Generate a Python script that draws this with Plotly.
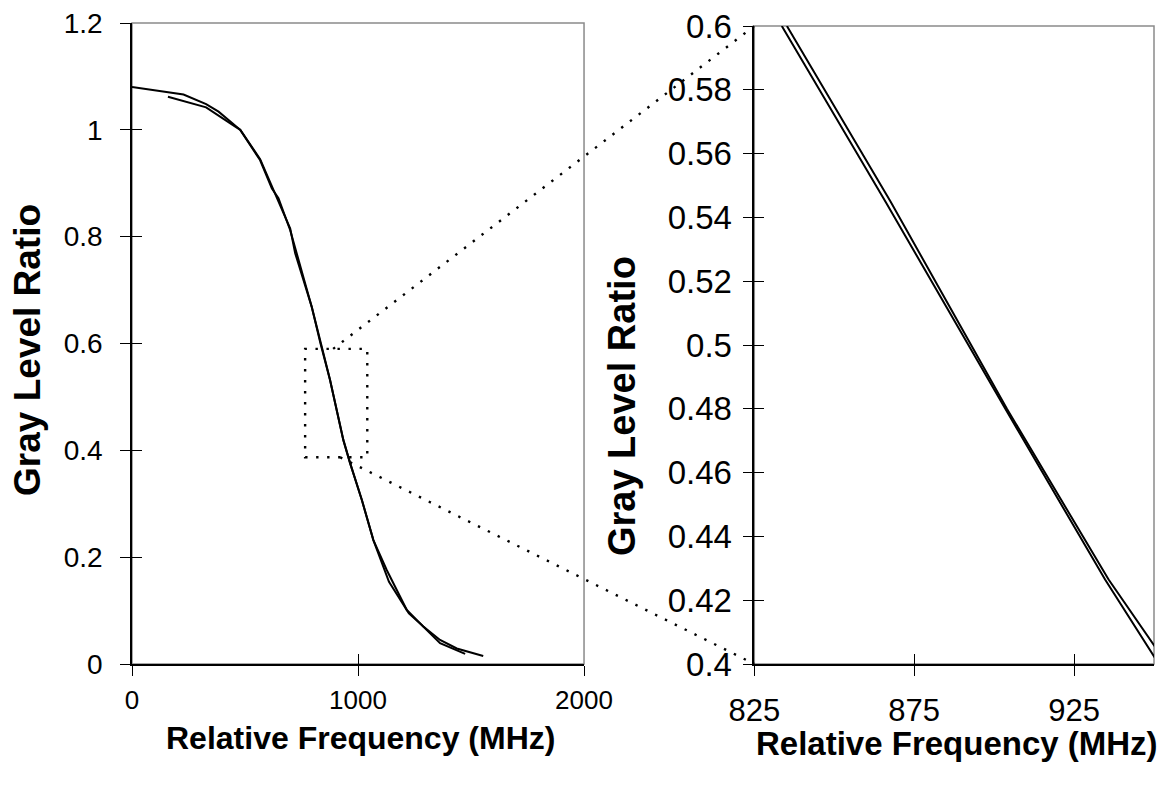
import plotly.graph_objects as go

# ---------------- data ----------------
# Left panel: full curves
freq_a = [0, 228, 328, 383, 479, 567, 619, 648, 700, 745, 795, 834, 876, 935, 965, 1017, 1068, 1137, 1225, 1282, 1363, 1474]
ratio_a = [1.08, 1.066, 1.048, 1.034, 1.0, 0.943, 0.89, 0.872, 0.812, 0.744, 0.669, 0.60, 0.532, 0.42, 0.376, 0.307, 0.232, 0.154, 0.095, 0.073, 0.039, 0.019]
freq_b = [159, 328, 435, 479, 567, 626, 700, 722, 795, 836, 876, 935, 965, 1017, 1068, 1127, 1216, 1289, 1363, 1437, 1554]
ratio_b = [1.062, 1.042, 1.012, 1.0, 0.945, 0.887, 0.815, 0.769, 0.669, 0.60, 0.532, 0.419, 0.376, 0.307, 0.232, 0.176, 0.101, 0.070, 0.045, 0.029, 0.015]

# Right panel: zoomed curves
zoom_freq_a = [833.6, 866.0, 903.5, 934.7, 951.5]
zoom_ratio_a = [0.60, 0.545, 0.48, 0.4265, 0.40]
zoom_freq_b = [835.2, 867.6, 904.0, 935.8, 950.6]
zoom_ratio_b = [0.60, 0.545, 0.48, 0.4265, 0.405]

left_xticks = [0, 1000, 2000]
left_xlabels = ["0", "1000", "2000"]
left_yticks = [0, 0.2, 0.4, 0.6, 0.8, 1.0, 1.2]
left_ylabels = ["0", "0.2", "0.4", "0.6", "0.8", "1", "1.2"]
right_xticks = [825, 875, 925]
right_xlabels = ["825", "875", "925"]
right_yticks = [0.40, 0.42, 0.44, 0.46, 0.48, 0.50, 0.52, 0.54, 0.56, 0.58, 0.60]
right_ylabels = ["0.4", "0.42", "0.44", "0.46", "0.48", "0.5", "0.52", "0.54", "0.56", "0.58", "0.6"]

# zoom-box (left panel data coords) and connector anchors
box_x = [766, 1041]
box_y = [0.387, 0.59]
conn_top_start = (890, 0.59)
conn_bot_start = (921, 0.387)

x_title = "Relative Frequency (MHz)"
y_title = "Gray Level Ratio"

# ---------------- layout geometry ----------------
W, H = 1164, 792
L, R, T, B = 132, 10, 23, 128
left_xr, left_yr = [0, 2000], [0, 1.2]
right_xr, right_yr = [825, 950], [0.4, 0.6]
left_dx, left_dy = [0.0, 0.4423], [0.0, 1.0]
right_dx, right_dy = [0.6089, 1.0], [0.0, 0.9953]


def to_paper(v, rng, dom):
    return dom[0] + (v - rng[0]) / (rng[1] - rng[0]) * (dom[1] - dom[0])


FONT = "Liberation Sans, Arial, sans-serif"
line_style = dict(color="black", width=2)

fig = go.Figure()
fig.add_trace(go.Scatter(x=freq_a, y=ratio_a, mode="lines", line=line_style, xaxis="x", yaxis="y"))
fig.add_trace(go.Scatter(x=freq_b, y=ratio_b, mode="lines", line=line_style, xaxis="x", yaxis="y"))
fig.add_trace(go.Scatter(x=zoom_freq_a, y=zoom_ratio_a, mode="lines", line=line_style, xaxis="x2", yaxis="y2"))
fig.add_trace(go.Scatter(x=zoom_freq_b, y=zoom_ratio_b, mode="lines", line=line_style, xaxis="x2", yaxis="y2"))
# dummy traces so overlay (inside-tick) axes are drawn
fig.add_trace(go.Scatter(x=[None], y=[None], xaxis="x3", yaxis="y3", hoverinfo="skip"))
fig.add_trace(go.Scatter(x=[None], y=[None], xaxis="x4", yaxis="y4", hoverinfo="skip"))

common = dict(showgrid=False, zeroline=False, showline=True, linecolor="black", linewidth=1.5,
              ticks="outside", ticklen=10, tickwidth=1.2, tickcolor="black", automargin=False)
inner = dict(showgrid=False, zeroline=False, showline=False, ticks="inside", ticklen=10,
             tickwidth=1.2, tickcolor="black", showticklabels=False, automargin=False)

fig.update_layout(
    template="none",
    width=W, height=H, margin=dict(l=L, r=R, t=T, b=B, autoexpand=False),
    paper_bgcolor="white", plot_bgcolor="white", showlegend=False,
    xaxis=dict(domain=left_dx, range=left_xr, tickvals=left_xticks, ticktext=left_xlabels,
               anchor="y", tickfont=dict(family=FONT, color="black", size=26),
               ticklabelstandoff=2, **common),
    yaxis=dict(domain=left_dy, range=left_yr, tickvals=left_yticks, ticktext=left_ylabels,
               anchor="x", tickfont=dict(family=FONT, color="black", size=28),
               ticklabelstandoff=12, **common),
    xaxis2=dict(domain=right_dx, range=right_xr, tickvals=right_xticks, ticktext=right_xlabels,
                anchor="y2", tickfont=dict(family=FONT, color="black", size=31),
                ticklabelstandoff=8, **common),
    yaxis2=dict(domain=right_dy, range=right_yr, tickvals=right_yticks, ticktext=right_ylabels,
                anchor="x2", tickfont=dict(family=FONT, color="black", size=33),
                ticklabelstandoff=4, **common),
    xaxis3=dict(overlaying="x", anchor="y", range=left_xr, tickvals=left_xticks, **inner),
    yaxis3=dict(overlaying="y", anchor="x", range=left_yr, tickvals=left_yticks, **inner),
    xaxis4=dict(overlaying="x2", anchor="y2", range=right_xr, tickvals=right_xticks, **inner),
    yaxis4=dict(overlaying="y2", anchor="x2", range=right_yr, tickvals=right_yticks, **inner),
)

# gray frames (top/right borders)
for xr_, yr_ in (("x domain", "y domain"), ("x2 domain", "y2 domain")):
    fig.add_shape(type="rect", xref=xr_, yref=yr_, x0=0, x1=1, y0=0, y1=1,
                  line=dict(color="#8a8a8a", width=1.5), layer="below")

dot = dict(color="black", width=2.4, dash="2.4px,8.6px")
# dotted zoom box
fig.add_shape(type="rect", xref="x", yref="y", x0=box_x[0], x1=box_x[1], y0=box_y[0], y1=box_y[1],
              line=dot)
# connectors to right panel corners
for (sx, sy), ey in ((conn_top_start, right_yr[1]), (conn_bot_start, right_yr[0])):
    fig.add_shape(type="line", xref="paper", yref="paper",
                  x0=to_paper(sx, left_xr, left_dx), y0=to_paper(sy, left_yr, left_dy),
                  x1=to_paper(right_xr[0], right_xr, right_dx), y1=to_paper(ey, right_yr, right_dy),
                  line=dot)

fig.add_annotation(text="<b>%s</b>" % x_title, xref="paper", yref="paper", x=0.2231, y=-0.1154,
                   xanchor="center", yanchor="middle", showarrow=False,
                   font=dict(family=FONT, size=32, color="black"))
fig.add_annotation(text="<b>%s</b>" % x_title, xref="paper", yref="paper", x=0.8077, y=-0.1245,
                   xanchor="center", yanchor="middle", showarrow=False,
                   font=dict(family=FONT, size=33, color="black"))
fig.add_annotation(text="<b>%s</b>" % y_title, xref="paper", yref="paper", x=-0.1018, y=0.4899,
                   xanchor="center", yanchor="middle", textangle=-90, showarrow=False,
                   font=dict(family=FONT, size=37, color="black"))
fig.add_annotation(text="<b>%s</b>" % y_title, xref="paper", yref="paper", x=0.4795, y=0.4025,
                   xanchor="center", yanchor="middle", textangle=-90, showarrow=False,
                   font=dict(family=FONT, size=38, color="black"))

fig.write_html("out.html")
